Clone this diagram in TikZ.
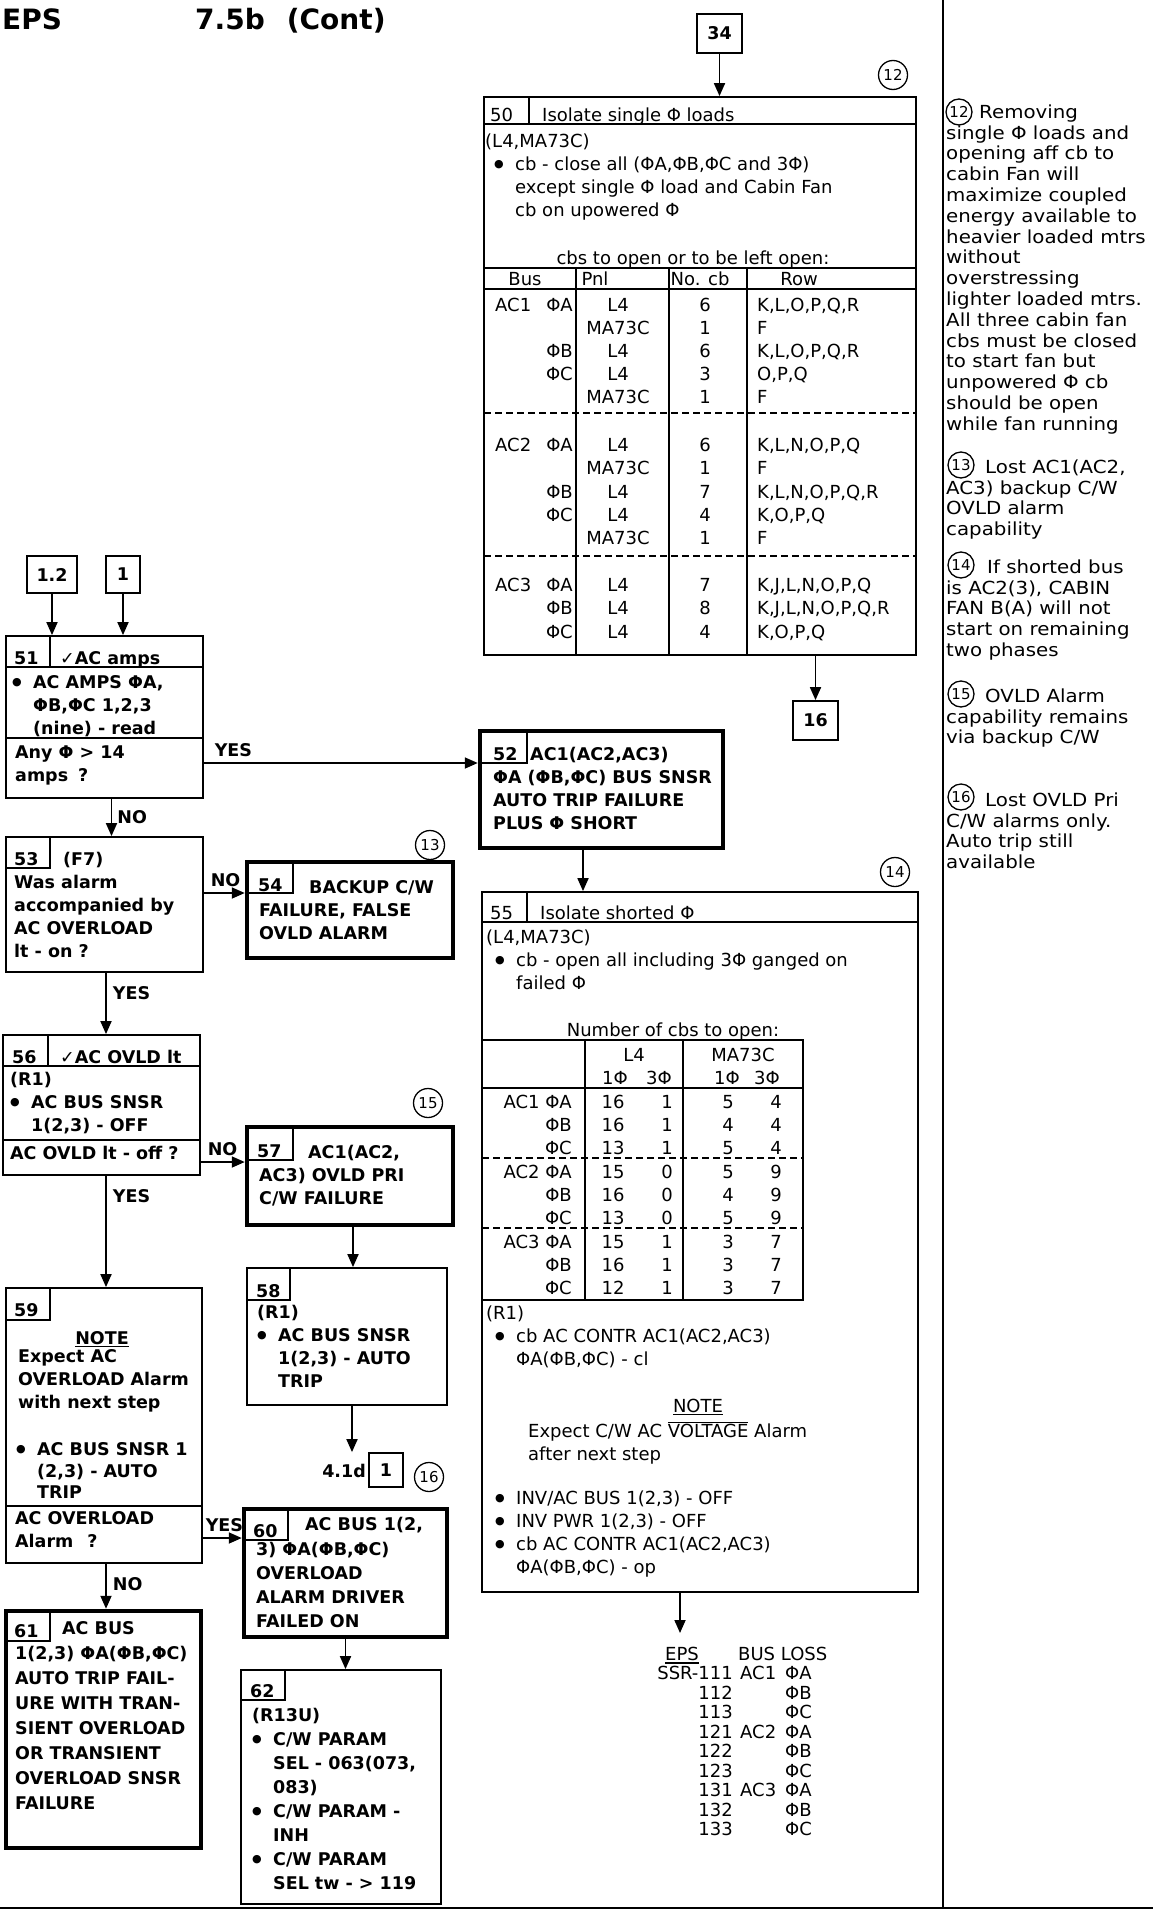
\documentclass[tikz,border=0pt]{standalone}
\usepackage{fontspec}
\setmainfont{DejaVu Sans}
\newfontfamily\notefont[FakeStretch=1.1]{DejaVu Sans}
\usetikzlibrary{arrows.meta}

\newcommand\rg{\fontsize{18}{23}\selectfont}
\newcommand\bd{\fontsize{17.5}{23}\selectfont\bfseries}
\newcommand\nt{\notefont\fontsize{18}{20.8}\selectfont}
\newcommand\ttl{\fontsize{28}{32}\selectfont\bfseries}
\newcommand\tstrut{\rule{0pt}{14pt}}
\newcommand\bdot{\raisebox{3pt}{\fontsize{11}{11}\selectfont\mdseries ●}}
\newcommand\bul{\hspace*{9pt}\makebox[21pt][l]{\bdot}}
\newcommand\ind{\hspace*{30pt}}
\newcommand\bbul{\makebox[21pt][l]{\bdot}}
\newcommand\bind{\hspace*{21pt}}
\newcommand\ul[1]{\setbox0\hbox{#1}\rlap{\rule[-3pt]{\wd0}{1.5pt}}\box0\relax}
\newcommand\ovl[1]{\setbox0\hbox{#1}\rlap{\rule[14.5pt]{\wd0}{1.3pt}}\box0\relax}

\begin{document}
\begin{tikzpicture}[x=1pt, y=-1pt,
  stepbox/.style={draw, line width=1.8pt, inner sep=0pt},
  failbox/.style={draw, line width=4.5pt, inner sep=0pt},
  refbox/.style={draw, line width=1.8pt, inner sep=0pt, font=\bd},
  numc/.style={circle, draw, line width=1.3pt, minimum size=29pt, inner sep=0pt, font=\fontsize{15}{15}\selectfont},
  notec/.style={numc, minimum size=26pt},
  cellln/.style={line width=1.8pt},
  tblln/.style={line width=1.3pt},
  dashln/.style={line width=1.3pt, dash pattern=on 7pt off 4pt},
  txt/.style={anchor=north west, inner sep=0pt, align=left, font=\rg, execute at begin node=\tstrut},
  btxt/.style={anchor=north west, inner sep=0pt, align=left, font=\bd, execute at begin node=\tstrut},
  ntxt/.style={anchor=north west, inner sep=0pt, align=left, font=\nt, execute at begin node=\tstrut},
  cell/.style={anchor=base, inner sep=0pt, font=\rg},
  lbl/.style={inner sep=0pt, font=\bd},
  arr/.style={line width=1.8pt, -{Triangle[length=13pt,width=11pt]}}]

\useasboundingbox (0,0) rectangle (1153,1911);
% cornice pagina
\draw[line width=2.5pt] (943,0) -- (943,1908);
\draw[line width=2.5pt] (0,1908) -- (1153,1908);
\node[anchor=base west, inner sep=0pt, font=\ttl] (hdeps) at (2,30) {EPS};
\node[anchor=base west, inner sep=0pt, font=\ttl] (hdsec) at (195,30) {7.5b\hspace{22pt}(Cont)};

% blocco 50
\node[refbox, minimum width=45pt, minimum height=39pt] (k34) at (719.5,33.5) {34};
\node[numc] (c12) at (893,75) {12};
\node[stepbox, minimum width=432pt, minimum height=558pt] (b50) at (700,376) {};
\draw[cellln] (529,97) -- (529,124);
\draw[cellln] (484,124) -- (916,124);
\node[cell, anchor=base west] (h50n) at (490,121) {50};
\node[cell, anchor=base west] (h50t) at (542,121) {Isolate single Φ loads};
\node[txt] (t50) at (485,133.5) {(L4,MA73C)\\\bul cb - close all (ΦA,ΦB,ΦC and 3Φ)\\\ind except single Φ load and Cabin Fan\\\ind cb on upowered Φ};
\node[cell] (t50h) at (693,264) {cbs to open or to be left open:};
\draw[tblln] (484,268) -- (916,268);
\draw[tblln] (484,289) -- (916,289);
\foreach \x in {576,669,747} \draw[tblln] (\x,268) -- (\x,655);
\draw[dashln] (484,413) -- (916,413);
\draw[dashln] (484,556) -- (916,556);
\node[cell] (c50a) at (525,285) {Bus};
\node[cell] (c50b) at (595,285) {Pnl};
\node[cell] (c50c) at (700,285) {No. cb};
\node[cell] (c50d) at (799,285) {Row};
\foreach \y/\bus/\ph/\pnl/\n/\row [count=\i] in {
  311/AC1/ΦA/L4/6/{K,L,O,P,Q,R}, 334/{}/{}/MA73C/1/F, 357/{}/ΦB/L4/6/{K,L,O,P,Q,R},
  380/{}/ΦC/L4/3/{O,P,Q}, 403/{}/{}/MA73C/1/F,
  451/AC2/ΦA/L4/6/{K,L,N,O,P,Q}, 474/{}/{}/MA73C/1/F, 498/{}/ΦB/L4/7/{K,L,N,O,P,Q,R},
  521/{}/ΦC/L4/4/{K,O,P,Q}, 544/{}/{}/MA73C/1/F,
  591/AC3/ΦA/L4/7/{K,J,L,N,O,P,Q}, 614/{}/ΦB/L4/8/{K,J,L,N,O,P,Q,R}, 638/{}/ΦC/L4/4/{K,O,P,Q}} {
  \node[cell, anchor=base west] (r50a\i) at (495,\y) {\bus};
  \node[cell, anchor=base east] (r50b\i) at (573,\y) {\ph};
  \node[cell] (r50c\i) at (618,\y) {\pnl};
  \node[cell] (r50d\i) at (705,\y) {\n};
  \node[cell, anchor=base west] (r50e\i) at (757,\y) {\row};
}
\node[refbox, minimum width=45pt, minimum height=39pt] (k16) at (815.5,720.5) {16};

% blocco 55
\node[stepbox, minimum width=436pt, minimum height=700pt] (b55) at (700,1242) {};
\node[numc] (c14) at (895,872) {14};
\draw[cellln] (527,892) -- (527,922);
\draw[cellln] (482,922) -- (918,922);
\node[cell, anchor=base west] (h55n) at (490,919) {55};
\node[cell, anchor=base west] (h55t) at (540,919) {Isolate shorted Φ};
\node[txt] (t55a) at (486,929.5) {(L4,MA73C)\\\bul cb - open all including 3Φ ganged on\\\ind failed Φ};
\node[cell] (t55h) at (673,1036) {Number of cbs to open:};
\draw[tblln] (482,1040) -- (803,1040) -- (803,1300) -- (482,1300);
\draw[tblln] (482,1088) -- (803,1088);
\foreach \x in {585,683} \draw[tblln] (\x,1040) -- (\x,1300);
\draw[dashln] (482,1158) -- (803,1158);
\draw[dashln] (482,1228) -- (803,1228);
\node[cell] (c55a) at (634,1061) {L4};
\node[cell] (c55b) at (743,1061) {MA73C};
\node[cell] (c55c) at (615,1084) {1Φ};
\node[cell] (c55d) at (659,1084) {3Φ};
\node[cell] (c55e) at (727,1084) {1Φ};
\node[cell] (c55f) at (767,1084) {3Φ};
\foreach \y/\bus/\la/\lb/\ma/\mb [count=\i] in {
  1108.5/AC1 ΦA/16/1/5/4, 1131.5/ΦB/16/1/4/4, 1154.5/ΦC/13/1/5/4,
  1178.5/AC2 ΦA/15/0/5/9, 1201.5/ΦB/16/0/4/9, 1224.5/ΦC/13/0/5/9,
  1248.5/AC3 ΦA/15/1/3/7, 1271.5/ΦB/16/1/3/7, 1294.5/ΦC/12/1/3/7} {
  \node[cell, anchor=base east] (r55a\i) at (572,\y) {\bus};
  \node[cell] (r55b\i) at (613,\y) {\la};
  \node[cell] (r55c\i) at (667,\y) {\lb};
  \node[cell] (r55d\i) at (728,\y) {\ma};
  \node[cell] (r55e\i) at (776,\y) {\mb};
}
\node[txt] (t55b) at (486,1305.5) {(R1)\\\bul cb AC CONTR AC1(AC2,AC3)\\\ind ΦA(ΦB,ΦC) - cl};
\node[cell] (t55n) at (698,1412) {\ul{NOTE}};
\node[txt] (t55c) at (528,1421.5) {Expect C/W AC \ovl{VOLTAGE} Alarm\\after next step};
\node[txt] (t55d) at (486,1490.5) {\bul INV/AC BUS 1(2,3) - OFF\\\bul INV PWR 1(2,3) - OFF\\\bul cb AC CONTR AC1(AC2,AC3)\\\ind ΦA(ΦB,ΦC) - op};
\coordinate (ssrtop) at (680,1633);
\node[cell, anchor=base west] (ssrh1) at (665,1660.5) {\ul{EPS}};
\node[cell, anchor=base west] (ssrh2) at (738,1660.5) {BUS LOSS};
\foreach \y/\n/\bus/\ph [count=\i] in {1679.5/SSR-111/AC1/ΦA, 1699/112/{}/ΦB, 1718.5/113/{}/ΦC,
  1738/121/AC2/ΦA, 1757.5/122/{}/ΦB, 1777/123/{}/ΦC,
  1796.5/131/AC3/ΦA, 1816/132/{}/ΦB, 1835.5/133/{}/ΦC} {
  \node[cell, anchor=base east] (ssra\i) at (733,\y) {\n};
  \node[cell, anchor=base west] (ssrb\i) at (740,\y) {\bus};
  \node[cell, anchor=base west] (ssrc\i) at (785,\y) {\ph};
}

% colonna sinistra
\node[refbox, minimum width=50pt, minimum height=37pt] (k12) at (52,574.5) {1.2};
\node[refbox, minimum width=34pt, minimum height=37pt] (k1) at (123,574.5) {1};
\node[stepbox, minimum width=197pt, minimum height=162pt] (b51) at (104.5,717) {};
\draw[cellln] (50,636) -- (50,667);
\draw[cellln] (6,667) -- (203,667);
\draw[cellln] (6,738) -- (203,738);
\node[lbl, anchor=base west] (h51n) at (14,664) {51};
\node[lbl, anchor=base west] (h51t) at (60,664) {{\mdseries ✓}AC amps};
\node[btxt] (t51) at (12,675.5) {\bbul AC AMPS ΦA,\\\bind ΦB,ΦC 1,2,3\\\bind (nine) - read};
\node[btxt] (q51) at (15,745.5) {Any Φ > 14\\amps\hspace{10pt}?};

\node[failbox, minimum width=243pt, minimum height=117pt] (b52) at (601.5,789.5) {};
\draw[cellln] (527,731) -- (527,763) -- (480,763);
\node[lbl, anchor=base west] (h52n) at (493,760) {52};
\node[btxt] (t52) at (493,747.5) {\hspace*{37pt}AC1(AC2,AC3)\\ΦA (ΦB,ΦC) BUS SNSR\\AUTO TRIP FAILURE\\PLUS Φ SHORT};

\node[stepbox, minimum width=197pt, minimum height=135pt] (b53) at (104.5,904.5) {};
\draw[cellln] (50,837) -- (50,868) -- (6,868);
\node[lbl, anchor=base west] (h53n) at (14,865) {53};
\node[lbl, anchor=base west] (h53t) at (63,865) {(F7)};
\node[btxt] (t53) at (14,874.5) {Was alarm\\accompanied by\\AC OVERLOAD\\lt - on ?};

\node[failbox, minimum width=206pt, minimum height=96pt] (b54) at (350,910) {};
\draw[cellln] (293,862) -- (293,893) -- (247,893);
\node[numc] (c13) at (430,845) {13};
\node[lbl, anchor=base west] (h54n) at (258,891) {54};
\node[btxt] (t54) at (259,880.5) {\hspace*{50pt}BACKUP C/W\\FAILURE, FALSE\\OVLD ALARM};

\node[stepbox, minimum width=197pt, minimum height=140pt] (b56) at (101.5,1105) {};
\draw[cellln] (48,1035) -- (48,1066);
\draw[cellln] (3,1066) -- (200,1066);
\draw[cellln] (3,1140) -- (200,1140);
\node[lbl, anchor=base west] (h56n) at (12,1063) {56};
\node[lbl, anchor=base west] (h56t) at (60,1063) {{\mdseries ✓}AC OVLD lt};
\node[btxt] (t56) at (10,1072.5) {(R1)\\\bbul AC BUS SNSR\\\bind 1(2,3) - OFF};
\node[btxt] (q56) at (10,1145.5) {AC OVLD lt - off ?};

\node[failbox, minimum width=206pt, minimum height=98pt] (b57) at (350,1176) {};
\draw[cellln] (293,1127) -- (293,1160) -- (247,1160);
\node[numc] (c15) at (428,1103) {15};
\node[lbl, anchor=base west] (h57n) at (257,1157) {57};
\node[btxt] (t57) at (259,1145.5) {\hspace*{49pt}AC1(AC2,\\AC3) OVLD PRI\\C/W FAILURE};

\node[stepbox, minimum width=200pt, minimum height=137pt] (b58) at (347,1336.5) {};
\draw[cellln] (290,1268) -- (290,1300) -- (247,1300);
\node[lbl, anchor=base west] (h58n) at (256,1297) {58};
\node[btxt] (t58) at (257,1305.5) {(R1)\\\bbul AC BUS SNSR\\\bind 1(2,3) - AUTO\\\bind TRIP};
\node[lbl, anchor=base east] (l41d) at (366,1477) {4.1d};
\node[refbox, minimum width=34pt, minimum height=34pt] (k1b) at (386,1470) {1};
\node[numc] (c16) at (429,1477) {16};

\node[stepbox, minimum width=196pt, minimum height=275pt] (b59) at (104,1425.5) {};
\draw[cellln] (50,1288) -- (50,1320) -- (6,1320);
\draw[cellln] (6,1506) -- (202,1506);
\node[lbl, anchor=base west] (h59n) at (14,1316) {59};
\node[lbl, anchor=base] (t59n) at (102,1344) {\ul{NOTE}};
\node[btxt] (t59a) at (18,1349.5) {Expect AC\\OVERLOAD Alarm\\with next step};
\node[btxt, font=\fontsize{17.5}{21.5}\selectfont\bfseries] (t59b) at (16,1442.5) {\bbul AC BUS SNSR 1\\\bind (2,3) - AUTO\\\bind TRIP};
\node[btxt] (q59) at (15,1511.5) {AC OVERLOAD\\Alarm\hspace{14pt}?};

\node[failbox, minimum width=203pt, minimum height=128pt] (b60) at (345.5,1573) {};
\draw[cellln] (288,1509) -- (288,1540) -- (244,1540);
\node[lbl, anchor=base west] (h60n) at (253,1537) {60};
\node[btxt, font=\fontsize{17.5}{24.2}\selectfont\bfseries] (t60) at (256,1517.5) {\hspace*{49pt}AC BUS 1(2,\\3) ΦA(ΦB,ΦC)\\OVERLOAD\\ALARM DRIVER\\FAILED ON};

\node[failbox, minimum width=195pt, minimum height=237pt] (b61) at (103.5,1729.5) {};
\draw[cellln] (50,1611) -- (50,1641) -- (6,1641);
\node[lbl, anchor=base west] (h61n) at (14,1637) {61};
\node[btxt, font=\fontsize{17.5}{25}\selectfont\bfseries] (t61) at (15,1621.5) {\hspace*{47pt}AC BUS\\1(2,3) ΦA(ΦB,ΦC)\\AUTO TRIP FAIL-\\URE WITH TRAN-\\SIENT OVERLOAD\\OR TRANSIENT\\OVERLOAD SNSR\\FAILURE};

\node[stepbox, minimum width=200pt, minimum height=234pt] (b62) at (341,1787) {};
\draw[cellln] (285,1670) -- (285,1700) -- (241,1700);
\node[lbl, anchor=base west] (h62n) at (250,1697) {62};
\node[btxt, font=\fontsize{17.5}{24}\selectfont\bfseries] (t62) at (252,1707.5) {(R13U)\\\bbul C/W PARAM\\\bind SEL - 063(073,\\\bind 083)\\\bbul C/W PARAM -\\\bind INH\\\bbul C/W PARAM\\\bind SEL tw - > 119};

% note a destra
\node[notec] (n12c) at (959,112) {12};
\node[ntxt] (n12) at (946,104.5) {\hspace*{33pt}Removing\\single Φ loads and\\opening aff cb to\\cabin Fan will\\maximize coupled\\energy available to\\heavier loaded mtrs\\without\\overstressing\\lighter loaded mtrs.\\All three cabin fan\\cbs must be closed\\to start fan but\\unpowered Φ cb\\should be open\\while fan running};
\node[notec] (n13c) at (961,465) {13};
\node[ntxt] (n13) at (946,459.5) {\hspace*{39pt}Lost AC1(AC2,\\AC3) backup C/W\\OVLD alarm\\capability};
\node[notec] (n14c) at (961,565) {14};
\node[ntxt] (n14) at (946,559.5) {\hspace*{41pt}If shorted bus\\is AC2(3), CABIN\\FAN B(A) will not\\start on remaining\\two phases};
\node[notec] (n15c) at (961,694) {15};
\node[ntxt] (n15) at (946,688.5) {\hspace*{39pt}OVLD Alarm\\capability remains\\via backup C/W};
\node[notec] (n16c) at (961,797) {16};
\node[ntxt] (n16) at (946,792.5) {\hspace*{39pt}Lost OVLD Pri\\C/W alarms only.\\Auto trip still\\available};

% collegamenti
\draw[arr] (k34.south) -- (k34.south |- b50.north);
\draw[arr] (k16.north |- b50.south) -- (k16.north);
\draw[arr] (k12.south) -- (k12.south |- b51.north);
\draw[arr] (k1.south) -- (k1.south |- b51.north);
\draw[arr] ([yshift=-46pt]b51.east) -- ([yshift=-46pt]b51.east -| b52.west) node[lbl, pos=0, anchor=south west, xshift=10pt, yshift=5pt] (y51) {YES};
\draw[arr] ([xshift=7pt]b51.south) -- ([xshift=7pt]b51.south |- b53.north) node[lbl, midway, right=5pt] (n51) {NO};
\draw[arr] ([yshift=11.5pt]b53.east) -- ([yshift=11.5pt]b53.east -| b54.west) node[lbl, pos=0, anchor=south west, xshift=6pt, yshift=5pt] (n53) {NO};
\draw[arr] ([xshift=-18.5pt]b52.south) -- ([xshift=-18.5pt]b52.south |- b55.north);
\draw[arr] ([xshift=1.5pt]b53.south) -- ([xshift=1.5pt]b53.south |- b56.north) node[lbl, pos=.33, right=6pt] (y53) {YES};
\draw[arr] ([yshift=-57pt]b56.east) -- ([yshift=-57pt]b56.east -| b57.west) node[lbl, pos=0, anchor=south west, xshift=6pt, yshift=5pt] (n56) {NO};
\draw[arr] ([xshift=4.5pt]b56.south) -- ([xshift=4.5pt]b56.south |- b59.north) node[lbl, pos=.18, right=6pt] (y56) {YES};
\draw[arr] ([xshift=3pt]b57.south) -- ([xshift=3pt]b57.south |- b58.north);
\draw[arr] ([xshift=5pt]b58.south) -- ([xshift=5pt]b58.south |- k1b.north);
\draw[arr] ([yshift=-112.5pt]b59.east) -- ([yshift=-112.5pt]b59.east -| b60.west) node[lbl, pos=0, anchor=south west, xshift=2pt, yshift=5pt] (y59) {YES};
\draw[arr] ([xshift=2pt]b59.south) -- ([xshift=2pt]b59.south |- b61.north) node[lbl, pos=.45, right=6pt] (n59) {NO};
\draw[arr] (b60.south) -- (b60.south |- b62.north);
\draw[arr] ([xshift=-20pt]b55.south) -- (ssrtop);

\end{tikzpicture}
\end{document}
